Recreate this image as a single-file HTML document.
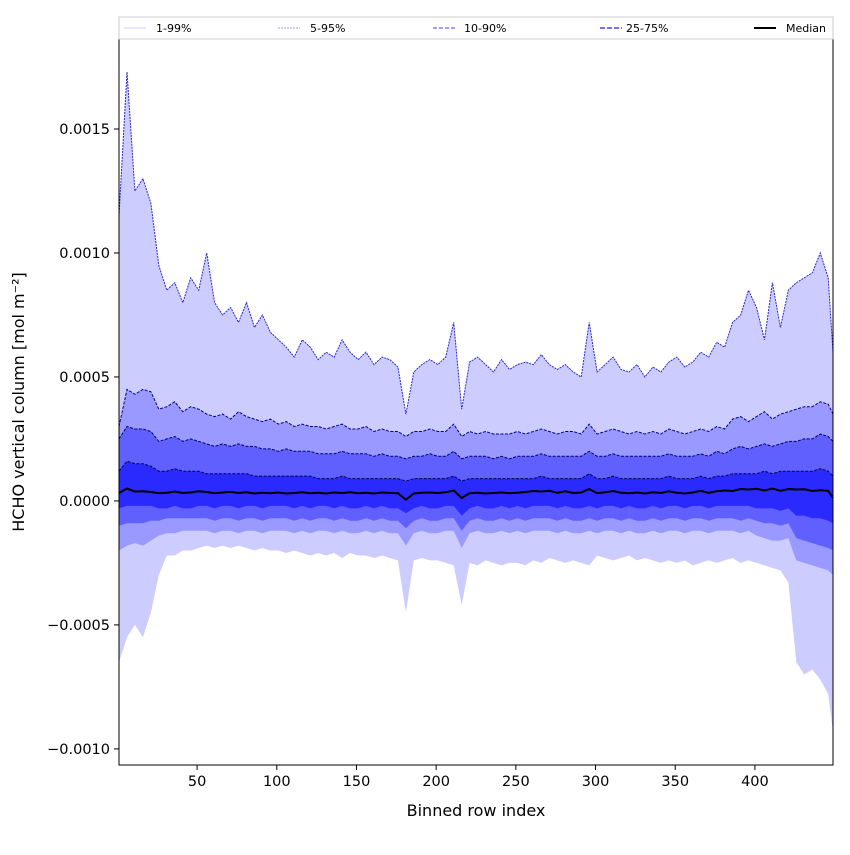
<!DOCTYPE html>
<html><head><meta charset="utf-8"><style>
body{margin:0;background:#fff;font-family:"Liberation Sans",sans-serif}
svg text{font-family:"DejaVu Sans","Liberation Sans",sans-serif}
</style></head><body>
<svg id="chart" width="850" height="850" viewBox="0 0 850 850">
<rect x="0" y="0" width="850" height="850" fill="#fff"/>
<g id="bands"></g>
<g id="lines"></g>
<rect x="119" y="39" width="714" height="726" fill="none" stroke="#000" stroke-width="1"/>
<g id="xticks"></g>
<g id="yticks"></g>
<text x="476" y="816" text-anchor="middle" font-size="16">Binned row index</text>
<text transform="translate(24,402) rotate(-90)" text-anchor="middle" font-size="16">HCHO vertical column [mol m⁻²]</text>
<g>
<rect x="119" y="17" width="714" height="22" fill="#fff" stroke="#ccc" stroke-width="1"/>
<g><line x1="124" y1="28" x2="146" y2="28" stroke="#ccccff" stroke-width="1"/><text x="156" y="32" font-size="11">1-99%</text></g>
<g><line x1="278" y1="28" x2="300" y2="28" stroke="#9999ff" stroke-width="1" stroke-dasharray="2,1"/><text x="310" y="32" font-size="11">5-95%</text></g>
<g><line x1="433" y1="28" x2="455" y2="28" stroke="#6666ff" stroke-width="1.2" stroke-dasharray="4,2"/><text x="464" y="32" font-size="11">10-90%</text></g>
<g><line x1="600" y1="28" x2="622" y2="28" stroke="#4444ff" stroke-width="1.5" stroke-dasharray="5,2"/><text x="626" y="32" font-size="11">25-75%</text></g>
<g><line x1="754" y1="28" x2="776" y2="28" stroke="#000" stroke-width="2"/><text x="786" y="32" font-size="11">Median</text></g>
</g>
</svg>
<script>
// values in units of 1e-5 mol m^-2
const rows=[1,6,11,16,21,26,31,36,41,46,51,56,61,66,71,76,81,86,91,96,101,106,111,116,121,126,131,136,141,146,151,156,161,166,171,176,181,186,191,196,201,206,211,216,221,226,231,236,241,246,251,256,261,266,271,276,281,286,291,296,301,306,311,316,321,326,331,336,341,346,351,356,361,366,371,376,381,386,391,396,401,406,411,416,421,426,431,436,441,446,449];
const p99=[115,173,125,130,120,95,85,88,80,90, 85,100,80,75,78,72,80,70,75,68, 65,62,58,65,62,57,60,58,65,60, 57,60,55,58,57,54,35,52,55,57, 55,58,72,37,56,58,55,52,57,53, 55,56,55,59,55,53,55,52,50,72, 52,55,58,53,52,55,50,54,52,56, 58,54,56,60,58,64,62,72,75,85, 78,65,88,70,85,88,90,92,100,90, 60];
const p95=[30,45,43,45,44,37,38,40,36,38, 37,35,34,35,33,36,34,33,32,33, 31,32,30,31,30,30,29,30,31,29, 29,30,28,29,28,28,26,28,28,29, 28,28,31,26,28,27,28,27,27,27, 28,27,28,29,28,27,28,28,27,31, 27,28,29,28,27,28,27,28,27,29, 28,27,28,29,28,30,29,33,34,32, 34,36,33,35,36,37,38,38,40,39, 35];
const p90=[25,30,29,29,28,24,25,26,24,25, 24,23,22,23,22,23,22,22,21,21, 20,21,20,20,20,19,19,19,20,19, 19,19,18,19,18,18,17,18,18,19, 18,18,20,17,18,18,18,17,18,17, 18,18,18,19,18,18,18,18,18,20, 18,18,19,18,18,18,18,18,18,19, 18,18,18,19,18,20,19,21,22,21, 22,23,22,23,24,24,25,25,27,26, 24];
const p75=[12,16,15,15,14,12,12,13,12,12, 12,11,11,11,11,11,11,10,10,10, 10,10,10,10,10,9,9,9,10,9, 9,9,9,9,9,9,8,9,9,9, 9,9,10,8,9,9,9,9,9,9, 9,9,9,10,9,9,9,9,9,11, 9,9,10,9,9,9,9,9,9,10, 9,9,9,10,9,10,10,11,11,11, 11,12,11,12,12,12,12,12,13,12, 10];
const p50=[3.2,5,3.8,3.9,3.6,3.1,3.3,3.8,3.2,3.4, 3.9,3.6,3.1,3.4,3.7,3.2,3.5,3.0,3.3,3.1, 3.4,3.0,3.2,3.5,3.1,3.3,3.0,3.4,3.2,3.5, 3.1,3.3,3.0,3.4,3.2,3.1,0.5,3.0,3.3,3.4, 3.2,3.5,4.2,1.2,3.1,3.3,3.0,3.2,3.4,3.1, 3.3,3.6,4.0,3.8,4.1,3.3,3.9,3.2,3.4,4.8, 3.1,3.5,4.0,3.3,3.1,3.4,3.0,3.5,3.2,3.9, 3.3,3.0,3.4,4.1,3.3,3.9,4.2,4.0,4.8,4.6, 4.9,4.2,5.0,4.1,4.8,4.6,4.7,4.0,4.3,4.1, 1.2];
const p25=[-3,-2,-2,-2,-2,-3,-3,-2,-3,-3, -2,-2,-3,-2,-2,-3,-2,-2,-3,-2, -2,-2,-3,-2,-3,-2,-2,-3,-2,-3, -3,-2,-3,-2,-3,-3,-5,-3,-2,-3, -3,-2,-2,-6,-3,-2,-3,-3,-2,-3, -2,-3,-2,-2,-2,-3,-2,-3,-3,-2, -3,-2,-2,-3,-2,-3,-3,-2,-3,-2, -2,-3,-2,-2,-3,-2,-2,-2,-2,-2, -3,-3,-3,-4,-3,-6,-6,-7,-7,-8, -9];
const p10=[-10,-9,-9,-9,-8,-8,-7,-7,-7,-7, -7,-7,-8,-7,-7,-8,-7,-7,-8,-7, -7,-7,-8,-7,-8,-7,-7,-8,-7,-8, -8,-7,-8,-7,-8,-8,-11,-8,-7,-8, -8,-7,-7,-12,-8,-7,-8,-8,-7,-8, -7,-8,-7,-7,-7,-8,-7,-8,-8,-7, -8,-7,-7,-8,-7,-8,-8,-7,-8,-7, -7,-8,-7,-7,-8,-7,-7,-7,-8,-7, -8,-9,-9,-10,-9,-15,-16,-17,-18,-19, -20];
const p5=[-20,-18,-17,-18,-16,-14,-13,-13,-12,-12, -12,-12,-13,-12,-12,-13,-12,-12,-13,-12, -12,-12,-13,-12,-13,-12,-12,-13,-12,-13, -13,-12,-13,-12,-13,-13,-18,-13,-12,-13, -13,-12,-12,-19,-13,-12,-13,-13,-12,-13, -12,-13,-12,-12,-12,-13,-12,-13,-13,-12, -13,-12,-12,-13,-12,-13,-13,-12,-13,-12, -12,-13,-12,-12,-13,-12,-12,-12,-13,-12, -14,-15,-16,-16,-15,-24,-25,-26,-27,-28, -30];
const p1=[-65,-55,-50,-55,-45,-30,-22,-22,-20,-20, -19,-18,-19,-18,-19,-18,-19,-20,-19,-20, -20,-21,-20,-21,-22,-21,-22,-21,-23,-21, -22,-22,-23,-22,-23,-24,-45,-24,-23,-24, -24,-25,-26,-42,-25,-26,-24,-25,-26,-25, -25,-26,-24,-25,-23,-24,-25,-24,-25,-26, -22,-23,-24,-23,-22,-24,-23,-24,-25,-24, -25,-24,-26,-25,-24,-25,-24,-23,-25,-24, -25,-26,-27,-28,-33,-65,-70,-68,-72,-78, -93];
const xTicks=[50,100,150,200,250,300,350,400];
const yTicks=[-0.001,-0.0005,0,0.0005,0.001,0.0015];
const yTickLabels=["\u22120.0010","\u22120.0005","0.0000","0.0005","0.0010","0.0015"];
const UNIT=1e-5;
const X0=119,X1=833,Y0=39,Y1=765,XMIN=1,XMAX=449,YMIN=-0.001065,YMAX=0.001863;
const sx=v=>X0+(v-XMIN)/(XMAX-XMIN)*(X1-X0);
const sy=v=>Y1-(v-YMIN)/(YMAX-YMIN)*(Y1-Y0);
const NS="http://www.w3.org/2000/svg";
function pts(arr){return rows.map((r,i)=>sx(r).toFixed(1)+","+sy(arr[i]*UNIT).toFixed(1));}
function band(up,lo,fill,name){
  const p=document.createElementNS(NS,"polygon");
  p.setAttribute("points",pts(up).concat(pts(lo).reverse()).join(" "));
  p.setAttribute("fill",fill);
  
  
  document.getElementById("bands").appendChild(p);
}
function line(arr,stroke,w,dash,name){
  const p=document.createElementNS(NS,"polyline");
  p.setAttribute("points",pts(arr).join(" "));
  p.setAttribute("fill","none");
  p.setAttribute("stroke",stroke);
  p.setAttribute("stroke-width",w);
  if(dash)p.setAttribute("stroke-dasharray",dash);
  
  
  document.getElementById("lines").appendChild(p);
}
band(p99,p1,"#ccccff","band-1-99");
band(p95,p5,"#9999ff","band-5-95");
band(p90,p10,"#6060ff","band-10-90");
band(p75,p25,"#2a2aff","band-25-75");
line(p99,"#2828c8",1,"2,1","line-p99");
line(p95,"#000080",1,"3,1.5","line-p95");
line(p90,"#000060",1,"3,1.5","line-p90");
line(p75,"#000050",1,"3,1.5","line-p75");
line(p50,"#000",2,null,"median-line");
const xg=document.getElementById("xticks");
xTicks.forEach(t=>{
  const x=sx(t);
  const l=document.createElementNS(NS,"line");
  l.setAttribute("x1",x);l.setAttribute("x2",x);l.setAttribute("y1",Y1);l.setAttribute("y2",Y1+5);l.setAttribute("stroke","#000");
  
  
  xg.appendChild(l);
  const tx=document.createElementNS(NS,"text");
  tx.setAttribute("x",x);tx.setAttribute("y",Y1+21);tx.setAttribute("text-anchor","middle");tx.setAttribute("font-size","14.5");
  tx.textContent=t;
  
  
  xg.appendChild(tx);
});
const yg=document.getElementById("yticks");
yTicks.forEach((t,i)=>{
  const y=sy(t);
  const l=document.createElementNS(NS,"line");
  l.setAttribute("x1",X0-5);l.setAttribute("x2",X0);l.setAttribute("y1",y);l.setAttribute("y2",y);l.setAttribute("stroke","#000");
  
  
  yg.appendChild(l);
  const tx=document.createElementNS(NS,"text");
  tx.setAttribute("x",X0-9);tx.setAttribute("y",y+5);tx.setAttribute("text-anchor","end");tx.setAttribute("font-size","14.5");
  tx.textContent=yTickLabels[i];
  
  
  yg.appendChild(tx);
});
</script>
</body></html>
